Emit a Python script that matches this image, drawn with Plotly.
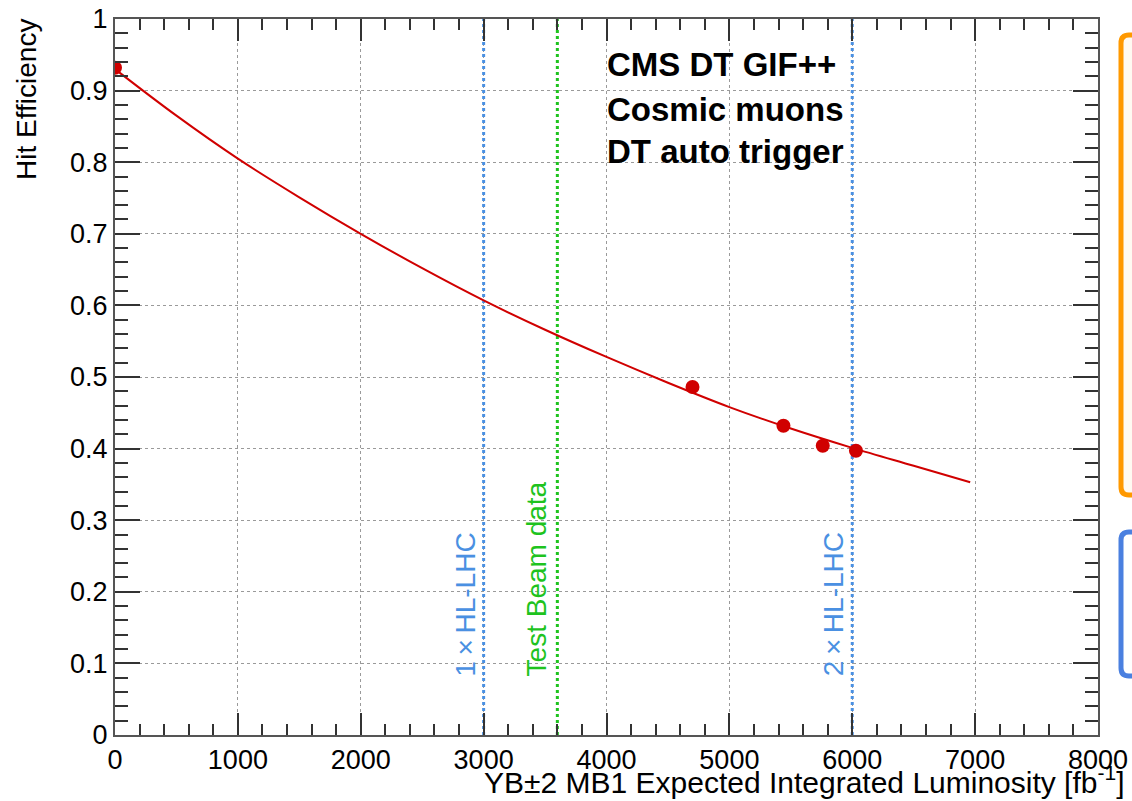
import plotly.graph_objects as go

# ---- data ----
meas_x = [0, 4700, 5440, 5760, 6030]
meas_y = [0.932, 0.486, 0.432, 0.404, 0.397]

fit_x = [0, 500, 1000, 1500, 2000, 2500, 3000, 3500, 4000, 4500, 5000, 5500, 6000, 6500, 6960]
fit_y = [0.930, 0.865, 0.805, 0.751, 0.700, 0.652, 0.607, 0.566, 0.528, 0.492, 0.458, 0.428, 0.401, 0.376, 0.353]

hl_lines = [3000, 6000]
tb_line = 3600

x_ticks = [0, 1000, 2000, 3000, 4000, 5000, 6000, 7000, 8000]
y_ticks = [0, 0.1, 0.2, 0.3, 0.4, 0.5, 0.6, 0.7, 0.8, 0.9, 1]
y_tick_text = ["0", "0.1", "0.2", "0.3", "0.4", "0.5", "0.6", "0.7", "0.8", "0.9", "1"]

FONT = "Liberation Sans, Arial, Helvetica, sans-serif"
RED = "#d00000"
BLUE = "#4a90e2"
GREEN = "#1ec31e"

fig = go.Figure()

# vertical reference lines
for xv in hl_lines:
    fig.add_trace(go.Scatter(x=[xv, xv], y=[0, 1], mode="lines",
                             line=dict(color=BLUE, width=3, dash="dot"),
                             hoverinfo="skip", showlegend=False))
fig.add_trace(go.Scatter(x=[tb_line, tb_line], y=[0, 1], mode="lines",
                         line=dict(color=GREEN, width=3, dash="dot"),
                         hoverinfo="skip", showlegend=False))

# fit curve
fig.add_trace(go.Scatter(x=fit_x, y=fit_y, mode="lines",
                         line=dict(color=RED, width=2, shape="spline", smoothing=1.0),
                         showlegend=False))
# measurements
fig.add_trace(go.Scatter(x=meas_x, y=meas_y, mode="markers",
                         marker=dict(color=RED, size=14),
                         showlegend=False))

axis_common = dict(
    showline=True, linecolor="#555555", linewidth=2, mirror="allticks",
    ticks="inside", tickcolor="#333333", tickwidth=1.5,
    showgrid=True, gridcolor="#9a9a9a", gridwidth=1, griddash="dot",
    zeroline=False, tickfont=dict(family=FONT, size=27, color="black"),
    automargin=False, ticklabeloverflow="allow",
)

fig.update_xaxes(range=[0, 8000], tickvals=x_ticks, ticktext=[str(v) for v in x_ticks],
                 ticklen=22, minor=dict(dtick=200, ticklen=11, ticks="inside",
                                        tickcolor="#333333", showgrid=False),
                 **axis_common)
fig.update_yaxes(range=[0, 1], tickvals=y_ticks, ticktext=y_tick_text,
                 ticklen=25, minor=dict(dtick=0.02, ticklen=13, ticks="inside",
                                        tickcolor="#333333", showgrid=False),
                 **axis_common)

annotations = [
    dict(text="CMS DT GIF++", x=3990, y=0.936),
    dict(text="Cosmic muons", x=3990, y=0.874),
    dict(text="DT auto trigger", x=3990, y=0.815),
]
for a in annotations:
    fig.add_annotation(text="<b>%s</b>" % a["text"], x=a["x"], y=a["y"], xref="x", yref="y",
                       xanchor="left", yanchor="middle", showarrow=False,
                       font=dict(family=FONT, size=33, color="black"))

fig.add_annotation(text="1\u2009\u00d7\u2009HL-LHC", x=2850, y=0.079, xref="x", yref="y",
                   textangle=-90, xanchor="center", yanchor="bottom", showarrow=False,
                   font=dict(family=FONT, size=28, color=BLUE))
fig.add_annotation(text="Test Beam data", x=3430, y=0.079, xref="x", yref="y",
                   textangle=-90, xanchor="center", yanchor="bottom", showarrow=False,
                   font=dict(family=FONT, size=28, color=GREEN))
fig.add_annotation(text="2\u2009\u00d7\u2009HL-LHC", x=5850, y=0.079, xref="x", yref="y",
                   textangle=-90, xanchor="center", yanchor="bottom", showarrow=False,
                   font=dict(family=FONT, size=28, color=BLUE))

# axis titles
fig.add_annotation(text="YB\u00b12 MB1 Expected Integrated Luminosity [fb<sup>-1</sup>]",
                   x=1.029, y=-0.063, xref="paper", yref="paper",
                   xanchor="right", yanchor="middle", showarrow=False,
                   font=dict(family=FONT, size=30, color="black"))
fig.add_annotation(text="Hit Efficiency", x=-0.09, y=1.003, xref="paper", yref="paper",
                   textangle=-90, xanchor="center", yanchor="top", showarrow=False,
                   font=dict(family=FONT, size=28, color="black"))

# partial boxes at right edge (cropped panel in the reference)
W_PLOT, H_PLOT, L, B = 983.0, 716.0, 115.0, 735.0
def px(xp):
    return (xp - L) / W_PLOT
def py(yp):
    return (B - yp) / H_PLOT

def rounded(x0, y0, x1, y1, r):
    X = lambda v: px(v)
    Y = lambda v: py(v)
    rx = r / W_PLOT
    ry = r / H_PLOT
    return (f"M {X(x0)+rx},{Y(y0)} L {X(x1)-rx},{Y(y0)} Q {X(x1)},{Y(y0)} {X(x1)},{Y(y0)-ry} "
            f"L {X(x1)},{Y(y1)+ry} Q {X(x1)},{Y(y1)} {X(x1)-rx},{Y(y1)} "
            f"L {X(x0)+rx},{Y(y1)} Q {X(x0)},{Y(y1)} {X(x0)},{Y(y1)+ry} "
            f"L {X(x0)},{Y(y0)-ry} Q {X(x0)},{Y(y0)} {X(x0)+rx},{Y(y0)} Z")

fig.add_shape(type="path", xref="paper", yref="paper",
              path=rounded(1121, 35, 1160, 495, 8),
              line=dict(color="#ff9900", width=5), fillcolor="#fffaf2", layer="above")
fig.add_shape(type="path", xref="paper", yref="paper",
              path=rounded(1121, 532, 1160, 676, 8),
              line=dict(color="#4a80e0", width=5), fillcolor="#ffffff", layer="above")

fig.update_layout(
    width=1132, height=801,
    margin=dict(l=115, r=34, t=19, b=66),
    paper_bgcolor="white", plot_bgcolor="white",
    font=dict(family=FONT, color="black"),
    showlegend=False,
)

fig.write_html("out.html")
